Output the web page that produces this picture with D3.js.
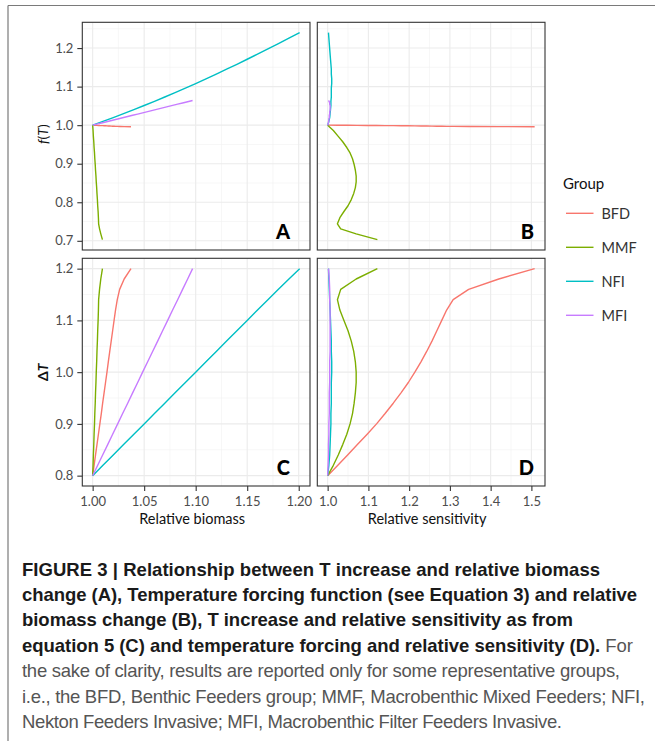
<!DOCTYPE html>
<html><head><meta charset="utf-8">
<script src="https://cdn.jsdelivr.net/npm/d3@7"></script>
<style>body{margin:0;background:#fff} svg{display:block}</style>
</head><body>
<svg id="fig" width="655" height="741"></svg>
<script>
// ---------------- DATA ----------------
const groups = ["BFD", "MMF", "NFI", "MFI"];
const deltaT = [0.80,0.82,0.84,0.86,0.88,0.90,0.92,0.94,0.96,0.98,1.00,1.02,1.04,1.06,1.08,1.10,1.12,1.14,1.16,1.18,1.20];

const biomassBFD = [1.0000,1.0014,1.0028,1.0042,1.0056,1.0070,1.0084,1.0097,1.0111,1.0125,1.0139,1.0152,1.0166,1.0180,1.0194,1.0208,1.0222,1.0239,1.0262,1.0306,1.0372];
const biomassMMF = [1.0000,1.0004,1.0007,1.0011,1.0014,1.0018,1.0021,1.0025,1.0028,1.0032,1.0035,1.0039,1.0042,1.0046,1.0049,1.0053,1.0056,1.0058,1.0067,1.0079,1.0095];
const biomassNFI = [1.0000,1.0100,1.0200,1.0300,1.0400,1.0500,1.0600,1.0700,1.0800,1.0900,1.1000,1.1100,1.1200,1.1300,1.1400,1.1500,1.1600,1.1701,1.1803,1.1905,1.2009];
const biomassMFI = [1.0000,1.0049,1.0097,1.0146,1.0194,1.0243,1.0291,1.0340,1.0388,1.0437,1.0485,1.0534,1.0582,1.0631,1.0679,1.0728,1.0776,1.0825,1.0873,1.0922,1.0970];

const fTBFD = [1.0000,0.9998,0.9996,0.9994,0.9992,0.9990,0.9989,0.9987,0.9985,0.9983,0.9981,0.9979,0.9977,0.9975,0.9973,0.9971,0.9969,0.9968,0.9966,0.9963,0.9958];
const fTMMF = [1.000,0.986,0.971,0.957,0.942,0.928,0.913,0.898,0.883,0.868,0.853,0.838,0.823,0.807,0.791,0.776,0.760,0.744,0.731,0.718,0.703];
const fTNFI = [1.0000,1.0097,1.0197,1.0299,1.0403,1.0510,1.0619,1.0731,1.0845,1.0961,1.1080,1.1201,1.1325,1.1451,1.1579,1.1710,1.1843,1.1979,1.2117,1.2257,1.2400];
const fTMFI = [1.0000,1.0032,1.0064,1.0096,1.0128,1.0160,1.0192,1.0224,1.0256,1.0288,1.0320,1.0352,1.0384,1.0416,1.0448,1.0480,1.0512,1.0544,1.0576,1.0608,1.0640];

const sensBFD = [1.000,1.025,1.049,1.073,1.097,1.120,1.141,1.161,1.180,1.198,1.214,1.229,1.243,1.256,1.268,1.280,1.292,1.308,1.346,1.420,1.508];
const sensMMF = [1.000,1.014,1.026,1.037,1.047,1.055,1.061,1.065,1.068,1.070,1.070,1.068,1.064,1.058,1.050,1.040,1.030,1.024,1.032,1.070,1.122];
const sensNFI = [1.000,1.003,1.005,1.006,1.007,1.008,1.008,1.009,1.009,1.009,1.010,1.010,1.009,1.009,1.008,1.007,1.006,1.005,1.004,1.003,1.002];
const sensMFI = [1.000,1.001,1.002,1.002,1.003,1.003,1.004,1.004,1.004,1.005,1.005,1.005,1.006,1.006,1.006,1.006,1.006,1.005,1.005,1.004,1.002];

const xTicksBiomass = [1.00,1.05,1.10,1.15,1.20];
const xTicksSens = [1.0,1.1,1.2,1.3,1.4,1.5];
const yTicksFT = [0.7,0.8,0.9,1.0,1.1,1.2];
const yTicksDT = [0.8,0.9,1.0,1.1,1.2];
const panelLetters = ["A","B","C","D"];

const captionLines = [
  [["FIGURE 3 | Relationship between T increase and relative biomass", true]],
  [["change (A), Temperature forcing function (see Equation 3) and relative", true]],
  [["biomass change (B), T increase and relative sensitivity as from", true]],
  [["equation 5 (C) and temperature forcing and relative sensitivity (D).", true], [" For", false]],
  [["the sake of clarity, results are reported only for some representative groups,", false]],
  [["i.e., the BFD, Benthic Feeders group; MMF, Macrobenthic Mixed Feeders; NFI,", false]],
  [["Nekton Feeders Invasive; MFI, Macrobenthic Filter Feeders Invasive.", false]]
];
const captionEnds = [600, 637, 573, 633, 620, 645, 562];

// ---------------- LAYOUT / STYLE ----------------
const colors = d3.scaleOrdinal().domain(groups).range(["#F8766D","#7CAE00","#00BFC4","#C77CFF"]);
const FONT = "Lato, 'Open Sans', sans-serif";
const colX = [82.3, 317.3], rowY = [22.3, 258.3], PW = 227.7, PH = 227.7;

const series = groups.map((g, i) => ({
  name: g,
  biomass: [biomassBFD, biomassMMF, biomassNFI, biomassMFI][i],
  fT: [fTBFD, fTMMF, fTNFI, fTMFI][i],
  sens: [sensBFD, sensMMF, sensNFI, sensMFI][i]
}));

function expand(ext) { const r = ext[1] - ext[0]; return [ext[0] - 0.05 * r, ext[1] + 0.05 * r]; }
const colVar = ["biomass", "sens"];
const rowVar = ["fT", "dT"];
const getVals = (s, v) => v === "dT" ? deltaT : s[v];

const xScales = colVar.map((v, c) => d3.scaleLinear()
  .domain(expand(d3.extent(series.flatMap(s => getVals(s, v)))))
  .range([colX[c], colX[c] + PW]));
const yScales = rowVar.map((v, r) => d3.scaleLinear()
  .domain(expand(d3.extent(series.flatMap(s => getVals(s, v)))))
  .range([rowY[r] + PH, rowY[r]]));
const xTickSets = [xTicksBiomass, xTicksSens];
const yTickSets = [yTicksFT, yTicksDT];
const xFormats = [d3.format(".2f"), d3.format(".1f")];

function minorBreaks(major, domain) {
  const step = major[1] - major[0];
  const ext = [major[0] - step, ...major, major[major.length - 1] + step];
  const out = [];
  for (let i = 0; i < ext.length - 1; i++) out.push((ext[i] + ext[i + 1]) / 2);
  return out.filter(v => v >= domain[0] && v <= domain[1]);
}

const svg = d3.select("#fig");

// outer frame
svg.append("line").attr("x1", 8).attr("x2", 655).attr("y1", 5.5).attr("y2", 5.5)
  .attr("stroke", "#7a7a7a").attr("stroke-width", 1.2);
svg.append("line").attr("x1", 8).attr("x2", 8).attr("y1", 5.5).attr("y2", 741)
  .attr("stroke", "#7a7a7a").attr("stroke-width", 1.2);

const defs = svg.append("defs");
const panels = [{c:0,r:0},{c:1,r:0},{c:0,r:1},{c:1,r:1}];

panels.forEach((p, i) => {
  const xs = xScales[p.c], ys = yScales[p.r];
  const g = svg.append("g");
  const x0 = colX[p.c], y0 = rowY[p.r];
  g.append("rect").attr("x", x0).attr("y", y0).attr("width", PW).attr("height", PH).attr("fill", "#fff");
  minorBreaks(xTickSets[p.c], xs.domain()).forEach(v => {
    g.append("line").attr("x1", xs(v)).attr("x2", xs(v)).attr("y1", y0).attr("y2", y0 + PH)
      .attr("stroke", "#f2f2f2").attr("stroke-width", 0.6);
  });
  minorBreaks(yTickSets[p.r], ys.domain()).forEach(v => {
    g.append("line").attr("y1", ys(v)).attr("y2", ys(v)).attr("x1", x0).attr("x2", x0 + PW)
      .attr("stroke", "#f2f2f2").attr("stroke-width", 0.6);
  });
  xTickSets[p.c].forEach(v => {
    g.append("line").attr("x1", xs(v)).attr("x2", xs(v)).attr("y1", y0).attr("y2", y0 + PH)
      .attr("stroke", "#ebebeb").attr("stroke-width", 1.1);
  });
  yTickSets[p.r].forEach(v => {
    g.append("line").attr("y1", ys(v)).attr("y2", ys(v)).attr("x1", x0).attr("x2", x0 + PW)
      .attr("stroke", "#ebebeb").attr("stroke-width", 1.1);
  });
  defs.append("clipPath").attr("id", "clip" + i).append("rect")
    .attr("x", x0).attr("y", y0).attr("width", PW).attr("height", PH);
  const line = d3.line()
    .x((d, k) => xs(getVals(d.s, colVar[p.c])[k]))
    .y((d, k) => ys(getVals(d.s, rowVar[p.r])[k]));
  const lg = g.append("g").attr("clip-path", `url(#clip${i})`);
  series.forEach(s => {
    const pts = deltaT.map(() => ({ s }));
    lg.append("path").attr("d", line(pts)).attr("fill", "none")
      .attr("stroke", colors(s.name)).attr("stroke-width", 1.4).attr("stroke-linejoin", "round");
  });
  g.append("rect").attr("x", x0).attr("y", y0).attr("width", PW).attr("height", PH)
    .attr("fill", "none").attr("stroke", "#333333").attr("stroke-width", 1.1);
  const inset = p.c === 0 ? 20 : 11;
  g.append("text").text(panelLetters[i])
    .attr("x", x0 + PW - inset).attr("y", y0 + PH - 11)
    .attr("text-anchor", "end").attr("font-family", "Lato, sans-serif").attr("font-weight", 900)
    .attr("font-size", 20).attr("fill", "#000");
});

function styleAxis(sel) {
  sel.select(".domain").remove();
  sel.selectAll(".tick line").attr("stroke", "#333333").attr("stroke-width", 1.1);
  sel.selectAll(".tick text").attr("fill", "#4d4d4d").attr("font-family", FONT).attr("font-size", 13);
}

[0, 1].forEach(r => {
  svg.append("g").attr("transform", `translate(${colX[0]},0)`)
    .call(d3.axisLeft(yScales[r]).tickValues(yTickSets[r]).tickFormat(d3.format(".1f")).tickSize(5).tickPadding(4))
    .call(styleAxis);
});
[0, 1].forEach(c => {
  svg.append("g").attr("transform", `translate(0,${rowY[1] + PH})`)
    .call(d3.axisBottom(xScales[c]).tickValues(xTickSets[c]).tickFormat(xFormats[c]).tickSize(5).tickPadding(6))
    .call(styleAxis);
});

const xTitles = ["Relative biomass", "Relative sensitivity"];
xTitles.forEach((t, c) => {
  svg.append("text").text(t).attr("x", colX[c] + PW / 2 - 4).attr("y", 524)
    .attr("text-anchor", "middle").attr("font-family", FONT).attr("font-size", 14.5).attr("fill", "#111");
});
const yt1 = svg.append("text").attr("transform", `translate(48,${rowY[0] + PH / 2 - 2}) rotate(-90)`)
  .attr("text-anchor", "middle").attr("font-family", FONT).attr("font-size", 14).attr("fill", "#111");
yt1.append("tspan").attr("font-style", "italic").text("f");
yt1.append("tspan").text("(");
yt1.append("tspan").attr("font-style", "italic").text("T");
yt1.append("tspan").text(")");
const yt2 = svg.append("text").attr("transform", `translate(48,${rowY[1] + PH / 2}) rotate(-90)`)
  .attr("text-anchor", "middle").attr("font-family", FONT).attr("font-size", 14).attr("font-weight", "bold").attr("fill", "#111");
yt2.append("tspan").text("Δ");
yt2.append("tspan").attr("font-style", "italic").text("T");

svg.append("text").text("Group").attr("x", 563).attr("y", 189)
  .attr("font-family", FONT).attr("font-size", 15).attr("fill", "#111");
groups.forEach((gname, k) => {
  const yk = 213.3 + k * 34;
  svg.append("line").attr("x1", 566).attr("x2", 593.5).attr("y1", yk).attr("y2", yk)
    .attr("stroke", colors(gname)).attr("stroke-width", 1.4);
  svg.append("text").text(gname).attr("x", 601.5).attr("y", yk + 5.3)
    .attr("font-family", FONT).attr("font-size", 14.5).attr("fill", "#333");
});

captionLines.forEach((parts, k) => {
  const t = svg.append("text").attr("x", 22).attr("y", 575.5 + k * 25.4)
    .attr("font-family", "'Liberation Sans', Arial, Helvetica, sans-serif").attr("font-size", 18.5)
    .attr("textLength", captionEnds[k] - 22).attr("lengthAdjust", "spacing");
  parts.forEach(([txt, bold]) => {
    t.append("tspan").text(txt)
      .attr("font-weight", bold ? "bold" : "normal")
      .attr("fill", bold ? "#1a1a1a" : "#555555");
  });
});
</script>
</body></html>
